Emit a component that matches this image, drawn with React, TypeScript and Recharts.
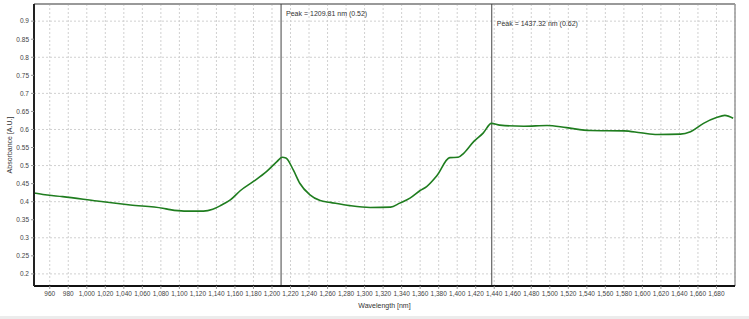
import React from 'react';
import {
    LineChart,
    Line,
    XAxis,
    YAxis,
    CartesianGrid,
    ReferenceLine,
    Label,
} from 'recharts';

const wavelength = [
    943, 955, 974, 1011, 1047, 1082, 1090, 1105, 1126, 1136, 1145, 1155, 1166, 1180, 1194, 1205,
    1211, 1215, 1223, 1230, 1241, 1252, 1263, 1284, 1306, 1328, 1338, 1349, 1360, 1367, 1378,
    1392, 1401, 1407, 1418, 1428, 1437, 1446, 1472, 1497, 1518, 1544, 1580, 1598, 1616, 1641,
    1652, 1666, 1680, 1689, 1698,
];
const absorbance = [
    0.424, 0.419, 0.414, 0.402, 0.391, 0.382, 0.378, 0.374, 0.374, 0.379, 0.39, 0.405, 0.431, 0.456,
    0.483, 0.51, 0.523, 0.521, 0.488, 0.451, 0.419, 0.403, 0.398, 0.389, 0.384, 0.385, 0.396, 0.41,
    0.431, 0.442, 0.472, 0.522, 0.523, 0.534, 0.567, 0.59, 0.617, 0.612, 0.609, 0.611, 0.605,
    0.597, 0.596, 0.591, 0.586, 0.587, 0.594, 0.617, 0.633, 0.639, 0.631,
];

const xTicks = [
    960, 980, 1000, 1020, 1040, 1060, 1080, 1100, 1120, 1140, 1160, 1180, 1200, 1220, 1240, 1260,
    1280, 1300, 1320, 1340, 1360, 1380, 1400, 1420, 1440, 1460, 1480, 1500, 1520, 1540, 1560,
    1580, 1600, 1620, 1640, 1660, 1680,
];
const yTicks = [0.2, 0.25, 0.3, 0.35, 0.4, 0.45, 0.5, 0.55, 0.6, 0.65, 0.7, 0.75, 0.8, 0.85, 0.9];
const yGrid = [0.2, 0.3, 0.4, 0.5, 0.6, 0.7, 0.8, 0.9];

const peaks = [
    { nm: 1209.81, value: 0.52, dy: 12 },
    { nm: 1437.32, value: 0.62, dy: 22 },
];

const xDomain = [943, 1700];
const yDomain = [0.1665, 0.9475];

const data = wavelength.map((w, i) => ({ w, a: absorbance[i] }));

const font = '"Liberation Sans", Arial, sans-serif';
const tickStyle = { fontSize: 6.5, fill: '#444', fontFamily: font };

const PeakLabel = ({ viewBox, text, dy }: any) => (
    <text x={viewBox.x + 5} y={viewBox.y + dy} fontSize={7} fill="#333" fontFamily={font}>
        {text}
    </text>
);

export default function App() {
    return (
        <div style={{ position: 'absolute', left: 0, top: 0, width: 749, height: 319, background: '#fff' }}>
            <LineChart
                width={749}
                height={316}
                data={data}
                margin={{ top: 4, right: 14, left: 0, bottom: 0 }}
            >
                <CartesianGrid horizontal={false} stroke="#d0d0d0" strokeDasharray="2 2" />
                {yGrid.map((v) => (
                    <ReferenceLine key={v} y={v} stroke="#d0d0d0" strokeDasharray="2 2" />
                ))}
                <XAxis
                    dataKey="w"
                    type="number"
                    domain={xDomain}
                    ticks={xTicks}
                    interval={0}
                    allowDataOverflow
                    height={30}
                    tick={tickStyle}
                    tickSize={3}
                    tickLine={{ stroke: '#999' }}
                    axisLine={{ stroke: '#111', strokeWidth: 2 }}
                    tickFormatter={(v: number) => v.toLocaleString('en-US')}
                >
                    <Label
                        value="Wavelength [nm]"
                        position="insideBottom"
                        offset={8}
                        style={{ fontSize: 7, fill: '#333', fontFamily: font }}
                    />
                </XAxis>
                <YAxis
                    type="number"
                    domain={yDomain}
                    ticks={yTicks}
                    interval={0}
                    allowDataOverflow
                    width={34}
                    tick={tickStyle}
                    tickSize={3}
                    tickLine={{ stroke: '#999' }}
                    axisLine={{ stroke: '#222', strokeWidth: 2 }}
                >
                    <Label
                        value="Absorbance [A.U.]"
                        angle={-90}
                        position="insideLeft"
                        offset={10}
                        style={{ fontSize: 7, fill: '#333', fontFamily: font, textAnchor: 'middle' }}
                    />
                </YAxis>
                <ReferenceLine y={yDomain[1]} stroke="#999" strokeWidth={2} />
                <ReferenceLine x={xDomain[1]} stroke="#999" strokeWidth={1.5} />
                {peaks.map((p) => (
                    <ReferenceLine
                        key={p.nm}
                        x={p.nm}
                        stroke="#444"
                        strokeWidth={1}
                        label={
                            <PeakLabel
                                text={`Peak = ${p.nm.toFixed(2)} nm (${p.value.toFixed(2)})`}
                                dy={p.dy}
                            />
                        }
                    />
                ))}
                <Line
                    type="monotone"
                    dataKey="a"
                    stroke="#1f7d1f"
                    strokeWidth={1.6}
                    dot={false}
                    isAnimationActive={false}
                />
            </LineChart>
            <div style={{ position: 'absolute', left: 0, top: 316, width: 749, height: 3, background: '#ececec' }} />
        </div>
    );
}
